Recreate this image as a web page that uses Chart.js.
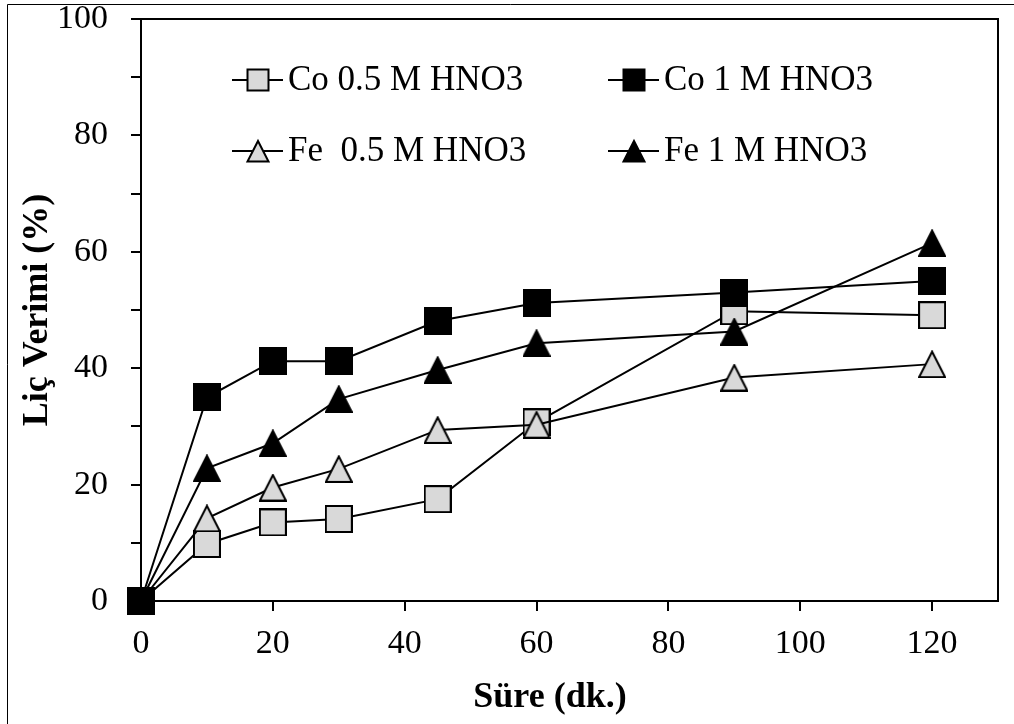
<!DOCTYPE html>
<html>
<head>
<meta charset="utf-8">
<script src="https://cdn.jsdelivr.net/npm/chart.js@4"></script>
<style>
    body { margin: 0; background: #fff; }
    canvas { display: block; }
</style>
</head>
<body>
<canvas id="chart" width="1014" height="724"></canvas>
<script>
// Süre (dk.) values on x axis
const timeMin = [0, 10, 20, 30, 45, 60, 90, 120];

// Liç verimi (%) per series
const co05 = [0, 9.8, 13.5, 14.1, 17.5, 30.7, 49.8, 49.1];
const co1 = [0, 35.0, 41.2, 41.2, 48.1, 51.2, 53.0, 55.0];
const fe05 = [0, 14.2, 19.5, 22.7, 29.4, 30.3, 38.4, 40.7];
const fe1 = [0, 22.8, 27.1, 34.7, 39.7, 44.3, 46.3, 61.5];

const seriesNames = ["Co 0.5 M HNO3", "Co 1 M HNO3", "Fe  0.5 M HNO3", "Fe 1 M HNO3"];
const xTitle = "Süre (dk.)";
const yTitle = "Liç Verimi (%)";

const FONT = "'Liberation Serif', 'Times New Roman', serif";
const GRAY = '#d9d9d9';

// draws a square or triangle marker, used for points and legend
function drawMarker(g, shape, fill, cx, cy, size) {
    const h = size / 2;
    g.save();
    g.lineWidth = 2;
    g.strokeStyle = '#000';
    g.fillStyle = fill;
    g.lineJoin = 'miter';
    g.beginPath();
    if (shape === 'square') {
        g.rect(cx - h + 1, cy - h + 1, size - 2, size - 2);
    } else {
        g.moveTo(cx, cy - h + 1.5);
        g.lineTo(cx + h - 1, cy + h - 1);
        g.lineTo(cx - h + 1, cy + h - 1);
        g.closePath();
    }
    g.fill();
    g.stroke();
    g.restore();
}

function makeMarker(shape, fill, size) {
    const c = document.createElement('canvas');
    c.width = size;
    c.height = size;
    drawMarker(c.getContext('2d'), shape, fill, size / 2, size / 2, size);
    return c;
}

const styles = [
    { shape: 'square', fill: GRAY, order: 4 },
    { shape: 'square', fill: '#000', order: 2 },
    { shape: 'triangle', fill: GRAY, order: 3 },
    { shape: 'triangle', fill: '#000', order: 1 }
];
const seriesData = [co05, co1, fe05, fe1];

// legend slots: [column x of marker, row y]
const legendCols = [258, 634];
const legendRows = [80, 151];

const frameAndLegend = {
    id: 'frameAndLegend',
    beforeDraw(chart) {
        const ctx = chart.ctx;
        ctx.save();
        ctx.strokeStyle = '#000';
        ctx.lineWidth = 1;
        ctx.beginPath();
        ctx.moveTo(7.5, 724);
        ctx.lineTo(7.5, 4.5);
        ctx.lineTo(1014, 4.5);
        ctx.stroke();
        ctx.restore();
    },
    afterDatasetsDraw(chart) {
        const ctx = chart.ctx;
        const a = chart.chartArea;
        ctx.save();
        // plot border
        ctx.strokeStyle = '#000';
        ctx.lineWidth = 2;
        ctx.strokeRect(a.left, a.top, a.right - a.left, a.bottom - a.top);

        // legend, 2 x 2
        ctx.font = '35px ' + FONT;
        ctx.fillStyle = '#000';
        ctx.textBaseline = 'middle';
        ctx.textAlign = 'left';
        chart.data.datasets.forEach((ds, i) => {
            const cx = legendCols[i % 2];
            const cy = legendRows[Math.floor(i / 2)];
            ctx.lineWidth = 2;
            ctx.beginPath();
            ctx.moveTo(cx - 26, cy);
            ctx.lineTo(cx + 25, cy);
            ctx.stroke();
            drawMarker(ctx, styles[i].shape, styles[i].fill, cx, cy, 23);
            ctx.fillText(ds.label, cx + 30, cy + 1);
        });

        // axis titles
        ctx.font = 'bold 36px ' + FONT;
        ctx.textAlign = 'center';
        ctx.fillText(xTitle, 550, 698);
        ctx.translate(38, 310);
        ctx.rotate(-Math.PI / 2);
        ctx.fillText(yTitle, 0, 0);
        ctx.restore();
    }
};

new Chart(document.getElementById('chart'), {
    type: 'line',
    data: {
        datasets: seriesData.map((vals, i) => ({
            label: seriesNames[i],
            data: timeMin.map((t, k) => ({ x: t, y: vals[k] })),
            borderColor: '#000',
            borderWidth: 2,
            tension: 0,
            fill: false,
            clip: false,
            order: styles[i].order,
            pointStyle: makeMarker(styles[i].shape, styles[i].fill, 28),
            pointRadius: 14,
            pointHoverRadius: 14
        }))
    },
    options: {
        responsive: false,
        devicePixelRatio: 1,
        animation: false,
        layout: { padding: { top: 19, right: 11, left: 0, bottom: 0 } },
        plugins: {
            legend: { display: false },
            tooltip: { enabled: false }
        },
        scales: {
            x: {
                type: 'linear',
                min: 0,
                max: 130,
                afterFit: s => { s.height = 123; s.paddingLeft = 0; s.paddingRight = 0; },
                ticks: {
                    stepSize: 20,
                    includeBounds: false,
                    color: '#000',
                    padding: 13,
                    font: { family: FONT, size: 34 }
                },
                grid: { drawOnChartArea: false, tickLength: 10, color: '#000', lineWidth: 2 },
                border: { color: '#000', width: 2 }
            },
            y: {
                min: 0,
                max: 100,
                afterFit: s => { s.width = 141; s.paddingTop = 0; s.paddingBottom = 0; },
                ticks: {
                    stepSize: 5,
                    color: '#000',
                    padding: 23,
                    font: { family: FONT, size: 34 },
                    callback: v => (v % 20 === 0 ? v : '')
                },
                grid: { drawOnChartArea: false, tickLength: 10, color: '#000', lineWidth: 2 },
                border: { color: '#000', width: 2 }
            }
        }
    },
    plugins: [frameAndLegend]
});
</script>
</body>
</html>
